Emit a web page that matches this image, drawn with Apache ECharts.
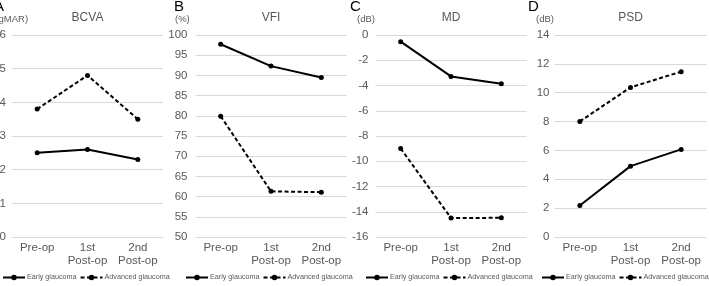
<!DOCTYPE html>
<html>
<head>
<meta charset="utf-8">
<script src="https://cdn.jsdelivr.net/npm/echarts@6/dist/echarts.min.js"></script>
<style>
  html, body { margin: 0; padding: 0; overflow: hidden; background: #fff; }
  #chart { position: absolute; left: -14px; top: 0; width: 723px; height: 286px; }
</style>
</head>
<body>
<div id="chart"></div>
<script>
const categories = ['Pre-op', '1st\nPost-op', '2nd\nPost-op'];
const seriesNames = ['Early glaucoma', 'Advanced glaucoma'];

const bcvaEarly = [0.25, 0.26, 0.23];
const bcvaAdvanced = [0.38, 0.48, 0.35];
const vfiEarly = [97.7, 92.3, 89.5];
const vfiAdvanced = [79.9, 61.3, 61.1];
const mdEarly = [-0.53, -3.28, -3.86];
const mdAdvanced = [-8.99, -14.5, -14.48];
const psdEarly = [2.18, 4.91, 6.07];
const psdAdvanced = [8.01, 10.37, 11.46];

// page is shifted 14px left, like the cropped original
const S = 14;
const font = 'Arial, "Liberation Sans", sans-serif';
const grey = '#595959';

const panels = [
  { letter: 'A', unit: '(logMAR)', title: 'BCVA', left: 12, width: 151, min: 0, max: 0.6, interval: 0.1, digits: 1, margin: 6, letterX: -6, unitX: -12, legendX: 2, early: bcvaEarly, adv: bcvaAdvanced },
  { letter: 'B', unit: '(%)', title: 'VFI', left: 195.5, width: 151, min: 50, max: 100, interval: 5, digits: 0, margin: 8, letterX: 174, unitX: 175, legendX: 185, early: vfiEarly, adv: vfiAdvanced },
  { letter: 'C', unit: '(dB)', title: 'MD', left: 375.5, width: 151, min: -16, max: 0, interval: 2, digits: 0, margin: 7, letterX: 350, unitX: 357, legendX: 365, early: mdEarly, adv: mdAdvanced },
  { letter: 'D', unit: '(dB)', title: 'PSD', left: 554.5, width: 152, min: 0, max: 14, interval: 2, digits: 0, margin: 5, letterX: 528, unitX: 536, legendX: 541, early: psdEarly, adv: psdAdvanced }
];

const titles = [], grids = [], xAxes = [], yAxes = [], series = [], legends = [];

panels.forEach((p, i) => {
  const cx = p.left + p.width / 2 + S;
  titles.push({ text: p.letter, left: p.letterX + S, top: -1, padding: 0, textStyle: { fontFamily: font, fontSize: 15, fontWeight: 'normal', color: '#000' } });
  titles.push({ text: p.unit, left: p.unitX + S, top: 14, padding: 0, textStyle: { fontFamily: font, fontSize: 9.5, fontWeight: 'normal', color: grey } });
  titles.push({ text: p.title, left: cx, top: 12, padding: 0, textAlign: 'center', textStyle: { fontFamily: font, fontSize: 12, fontWeight: 'normal', color: grey } });

  grids.push({ left: p.left + S, top: 35, width: p.width, height: 202 });

  xAxes.push({
    type: 'category', gridIndex: i, data: categories, boundaryGap: true,
    axisLine: { show: false }, axisTick: { show: false },
    axisLabel: { color: grey, fontFamily: font, fontSize: 11.5, lineHeight: 13, margin: 4, interval: 0 }
  });
  yAxes.push({
    type: 'value', gridIndex: i, min: p.min, max: p.max, interval: p.interval,
    axisLine: { show: false }, axisTick: { show: false },
    axisLabel: { color: grey, fontFamily: font, fontSize: 11.5, margin: p.margin, formatter: v => v.toFixed(p.digits) },
    splitLine: { lineStyle: { color: '#d9d9d9', width: 1 } }
  });

  series.push({
    name: seriesNames[0], type: 'line', xAxisIndex: i, yAxisIndex: i, data: p.early,
    symbol: 'circle', symbolSize: 5, itemStyle: { color: '#000' },
    lineStyle: { color: '#000', width: 2 }
  });
  series.push({
    name: seriesNames[1], type: 'line', xAxisIndex: i, yAxisIndex: i, data: p.adv,
    symbol: 'circle', symbolSize: 5, itemStyle: { color: '#000' },
    lineStyle: { color: '#000', width: 2, type: [4, 2.5] }
  });

  legends.push({
    data: seriesNames, left: p.legendX + S, top: 274, width: 200, padding: 0, orient: 'horizontal',
    itemWidth: 22, itemHeight: 7, itemGap: 3, selectedMode: false,
    textStyle: { fontFamily: font, fontSize: 7.2, color: grey, padding: [0, 0, 0, -3] }
  });
});

const chart = echarts.init(document.getElementById('chart'), null, { renderer: 'canvas' });
chart.setOption({
  animation: false,
  title: titles,
  grid: grids,
  xAxis: xAxes,
  yAxis: yAxes,
  legend: legends,
  series: series
});
</script>
</body>
</html>
